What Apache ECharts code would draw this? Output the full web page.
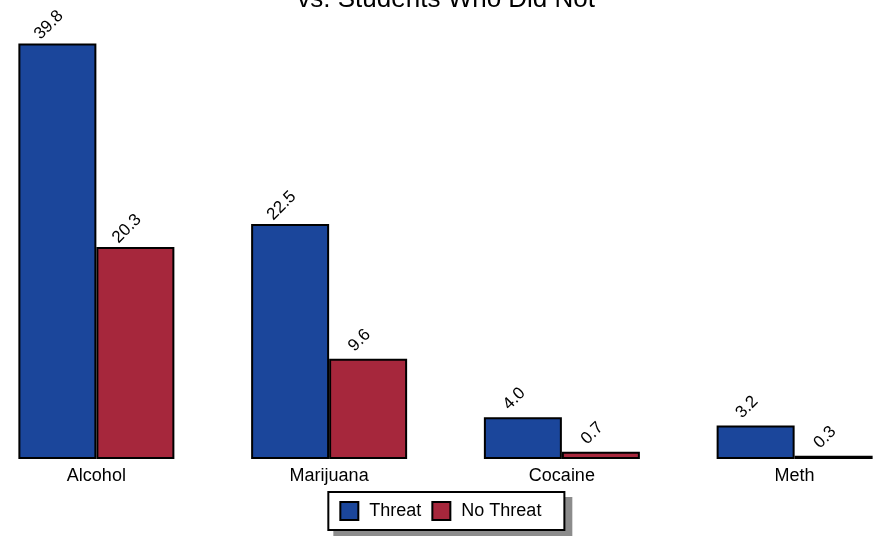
<!DOCTYPE html>
<html>
<head>
<meta charset="utf-8">
<script src="https://cdn.jsdelivr.net/npm/echarts@6/dist/echarts.min.js"></script>
<style>
html,body{margin:0;padding:0;background:#fff;overflow:hidden;width:878px;height:538px;position:relative;}
#c{position:absolute;left:-20.33px;top:0;width:930.67px;height:538px;}
</style>
</head>
<body>
<div id="c"></div>
<script>
const categories = ['Alcohol', 'Marijuana', 'Cocaine', 'Meth'];
const threat = [39.8, 22.5, 4.0, 3.2];
const noThreat = [20.3, 9.6, 0.7, 0.3];
const seriesNames = ['Threat', 'No Threat'];
const titleText = 'vs. Students Who Did Not';

const SHIFT = 20.33; // container starts left of the page edge
const FONT = 'Liberation Sans, Arial, Helvetica, sans-serif';
const labelCfg = {
  show: true,
  position: 'top',
  distance: 5,
  rotate: 45,
  align: 'center',
  verticalAlign: 'middle',
  offset: [3.5, -15.5],
  fontFamily: FONT,
  fontSize: 17,
  color: '#000',
  formatter: p => p.value.toFixed(1)
};

const chart = echarts.init(document.getElementById('c'), null, {renderer: 'canvas'});
chart.setOption({
  animation: false,
  backgroundColor: '#fff',
  title: {
    text: titleText,
    left: 297 + SHIFT,
    top: -13,
    padding: 0,
    textStyle: {fontFamily: FONT, fontSize: 26, fontWeight: 'normal', color: '#000'}
  },
  graphic: [{
    type: 'rect',
    left: 333 + SHIFT,
    top: 497,
    shape: {width: 239, height: 39},
    style: {fill: '#8c8c8c'},
    z: 0,
    silent: true
  }],
  legend: {
    data: seriesNames,
    left: 328 + SHIFT,
    top: 492,
    padding: [9, 23, 9, 11],
    itemWidth: 18,
    itemHeight: 18,
    itemGap: 10,
    icon: 'rect',
    backgroundColor: '#fff',
    borderColor: '#000',
    borderWidth: 2,
    z: 5,
    textStyle: {fontFamily: FONT, fontSize: 18, color: '#000', padding: [0, 0, 0, 6]}
  },
  grid: {left: 0, right: 0, top: 41.4, bottom: 79, containLabel: false},
  xAxis: {
    type: 'category',
    data: categories,
    axisLine: {show: false},
    axisTick: {show: false},
    axisLabel: {fontFamily: FONT, fontSize: 18, color: '#000', margin: 8},
    splitLine: {show: false}
  },
  yAxis: {
    type: 'value',
    min: 0,
    max: 40,
    show: false,
    splitLine: {show: false}
  },
  series: [
    {
      name: seriesNames[0],
      type: 'bar',
      data: threat,
      barWidth: 78,
      barGap: '0%',
      itemStyle: {color: '#1b469b', borderColor: '#000', borderWidth: 2},
      label: labelCfg
    },
    {
      name: seriesNames[1],
      type: 'bar',
      data: noThreat,
      barWidth: 78,
      barGap: '0%',
      itemStyle: {color: '#a6273c', borderColor: '#000', borderWidth: 2},
      label: labelCfg
    }
  ]
});
</script>
</body>
</html>
